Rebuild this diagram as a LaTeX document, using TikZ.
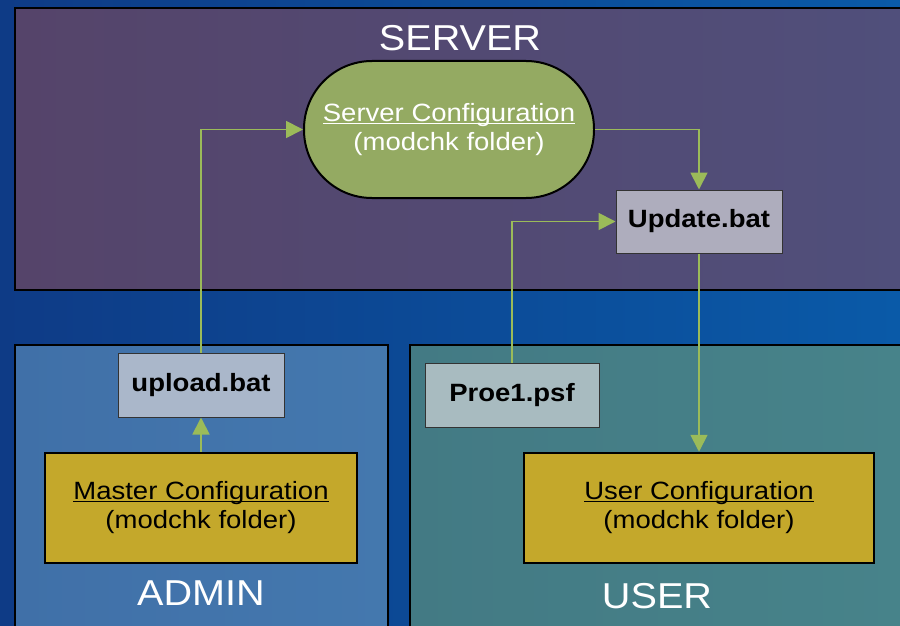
\documentclass[tikz,border=0pt]{standalone}
\usepackage{fontspec}
\setmainfont{Liberation Sans}[FakeStretch=1.1]
\newcommand\myul[1]{\setbox0\hbox{#1}\rlap{\rule[-2.4pt]{\wd0}{1.1pt}}\box0}
\usetikzlibrary{arrows.meta}
\definecolor{bgL}{HTML}{0E3B86}
\definecolor{bgR}{HTML}{0A5AA8}
\definecolor{srvL}{HTML}{55446A}
\definecolor{srvR}{HTML}{504F7B}
\definecolor{admL}{HTML}{4070A8}
\definecolor{admR}{HTML}{4478AE}
\definecolor{usrL}{HTML}{437A84}
\definecolor{usrR}{HTML}{47838A}
\definecolor{ellfill}{HTML}{94AA62}
\definecolor{updfill}{HTML}{AEADBD}
\definecolor{uplfill}{HTML}{AAB7CA}
\definecolor{psffill}{HTML}{A8BBC0}
\definecolor{cfgfill}{HTML}{C4A82B}
\definecolor{arrowgreen}{HTML}{9BBB59}
\tikzset{
  region/.style={draw=black, line width=2pt, rectangle, inner sep=0pt, anchor=north west},
  batbox/.style={draw=black!80, line width=1pt, rectangle, inner sep=0pt, font=\bfseries\fontsize{25}{29}\selectfont, text=black},
  cfgbox/.style={draw=black, line width=2.5pt, fill=cfgfill, rectangle, inner sep=0pt, align=center, font=\fontsize{25}{29}\selectfont, text=black, minimum height=110pt},
  title/.style={text=white, font=\fontsize{36}{40}\selectfont, anchor=base, inner sep=0pt},
  flow/.style={draw=arrowgreen, line width=1.8pt, -{Triangle[length=17pt,width=17pt]}},
}
\begin{document}
\begin{tikzpicture}[x=1pt,y=-1pt]
\useasboundingbox (0,0) rectangle (900,626);
\shade[left color=bgL, right color=bgR] (0,0) rectangle (900,626);
% regions
\node[region, left color=srvL, right color=srvR, minimum width=890pt, minimum height=282pt] (serverreg) at (14,7) {};
\node[region, left color=admL, right color=admR, minimum width=373pt, minimum height=290pt] (adminreg) at (14,344) {};
\node[region, left color=usrL, right color=usrR, minimum width=495pt, minimum height=290pt] (userreg) at (409,344) {};
% titles
\node[title] (servert) at (460,51) {SERVER};
\node[title] (admint) at (201,605) {ADMIN};
\node[title] (usert) at (657,608) {USER};
% server
\node[draw=black, line width=2pt, fill=ellfill, rectangle, rounded corners=68pt, minimum width=290pt, minimum height=137pt, inner sep=0pt, align=center, text=white, font=\fontsize{25}{29}\selectfont] (server) at (449,129.5) {\myul{Server Configuration}\\(modchk folder)};
\node[batbox, fill=updfill, minimum width=166pt, minimum height=63pt] (update) at (699,221.5) {Update.bat};
% admin
\node[batbox, fill=uplfill, minimum width=166pt, minimum height=64pt] (upload) at (201,385) {upload.bat};
\node[cfgbox, minimum width=312pt] (master) at (201,508) {\myul{Master Configuration}\\(modchk folder)};
% user
\node[batbox, fill=psffill, minimum width=174pt, minimum height=64pt] (proe) at (512,395) {Proe1.psf};
\node[cfgbox, minimum width=350pt] (userconf) at (699,508) {\myul{User Configuration}\\(modchk folder)};
% connectors
\draw[flow] (master.north) -- (upload.south);
\draw[flow] (upload.north) |- (server.west);
\draw[flow] (server.east) -| (update.north);
\draw[flow] (proe.north) |- (update.west);
\draw[flow] (update.south) -- (userconf.north);
\end{tikzpicture}
\end{document}
